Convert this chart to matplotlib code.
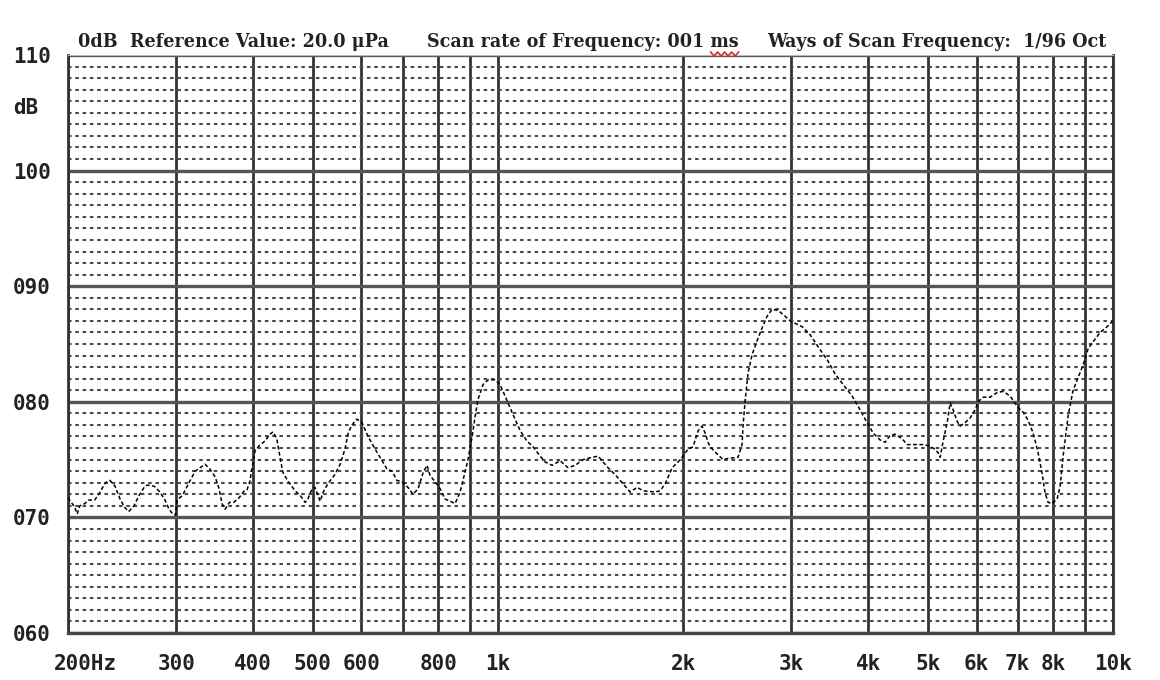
import matplotlib
matplotlib.use('Agg')
import matplotlib.pyplot as plt
from matplotlib import font_manager
from matplotlib.font_manager import FontProperties
from matplotlib.ticker import FixedLocator, FixedFormatter, MultipleLocator, NullLocator
from matplotlib.transforms import ScaledTranslation
import numpy as np

# ---------------- data ----------------
freq_hz = [200, 205, 207, 209, 213, 216, 221, 225, 230, 234, 238.5, 243, 247, 251, 256,
           261, 266, 269, 276, 281, 287, 292, 296, 299, 301, 307, 316, 322, 328, 334, 340,
           347, 352, 356, 360, 366, 372, 379.5, 387, 391, 395, 398, 403, 409, 418, 426,
           431, 437, 442, 447, 456, 468, 477, 486, 491, 499, 504, 510, 514, 520, 529, 543,
           554, 564, 571, 579, 590, 601, 615, 627, 643, 660, 673, 685, 698, 714, 728, 742,
           756, 767, 776, 790, 805, 820, 852, 868, 884, 894, 908, 918, 928, 946, 964, 989,
           1008, 1027, 1054, 1087, 1115, 1141, 1171, 1193, 1225, 1262, 1300, 1335, 1376,
           1423, 1455, 1510, 1551, 1580, 1640, 1684, 1722, 1801, 1835, 1870, 1920, 1963,
           2000, 2037, 2076, 2116, 2147, 2172, 2196, 2213, 2271, 2323, 2367, 2457, 2494,
           2504, 2523, 2551, 2590, 2639, 2689, 2739, 2791, 2855, 2930, 2986, 3123, 3218,
           3341, 3443, 3534, 3628, 3766, 3852, 3954, 4074, 4182, 4261, 4342, 4424, 4542,
           4627, 4733, 4913, 5006, 5101, 5197, 5236, 5295, 5375, 5436, 5497, 5580, 5643,
           5750, 5857, 5968, 6035, 6149, 6313, 6480, 6627, 6803, 7010, 7143, 7278, 7415,
           7555, 7669, 7756, 7844, 7962, 8113, 8204, 8297, 8454, 8613, 8776, 8943, 9112,
           9283, 9530, 9783, 10000]
level_db = [71.7, 70.9, 70.3, 71.0, 71.2, 71.5, 71.5, 72.1, 73.0, 73.2, 72.7, 71.6, 70.9, 70.5, 71.0,
            71.9, 72.6, 72.8, 72.7, 72.3, 71.6, 70.7, 70.3, 70.2, 71.5, 71.9, 73.2, 74.0, 74.3, 74.6, 74.2,
            73.5, 72.5, 71.2, 70.7, 71.3, 71.3, 71.7, 72.3, 72.4, 73.1, 74.1, 75.8, 76.2, 76.6, 77.2,
            77.4, 76.8, 75.3, 73.9, 73.1, 72.3, 71.9, 71.3, 71.6, 72.5, 72.6, 71.9, 71.4, 72.2, 72.9, 73.7,
            74.6, 75.9, 77.3, 78.0, 78.5, 78.2, 77.0, 76.2, 75.2, 74.2, 74.0, 73.2, 73.1, 72.6, 72.0, 72.5,
            73.9, 74.5, 73.6, 73.1, 72.5, 71.6, 71.2, 72.2, 73.9, 75.0, 77.0, 78.7, 80.2, 81.5, 81.9, 81.9,
            81.5, 80.5, 79.1, 77.5, 76.6, 76.1, 75.3, 74.8, 74.5, 74.9, 74.3, 74.5, 75.0,
            75.2, 75.3, 74.3, 73.7, 73.2, 72.2, 72.6, 72.3, 72.2, 72.3, 72.9, 74.3, 74.8,
            75.3, 75.9, 76.1, 77.5, 77.9, 77.3, 76.5, 76.1, 75.5, 75.0, 75.1, 75.2, 76.3,
            78.0, 80.1, 82.5, 84.1, 85.3, 86.4, 87.4, 88.0, 87.9, 87.4, 87.0, 86.5, 85.8,
            84.5, 83.5, 82.4, 81.6, 80.5, 79.6, 78.5, 77.3, 76.7, 76.5, 77.1, 77.2, 76.8,
            76.3, 76.3, 76.3, 76.2, 76.0, 75.6, 75.2, 76.6, 78.2, 79.9, 79.3, 78.3, 77.9,
            78.2, 78.6, 79.3, 80.0, 80.4, 80.4, 80.8, 80.9, 80.5, 79.5, 79.1, 78.4, 77.3,
            75.6, 73.8, 72.1, 71.3, 71.2, 71.6, 72.7, 75.3, 78.8, 81.0, 82.1, 83.2, 84.6,
            85.2, 86.0, 86.5, 87.0]

grid_freqs = [200, 300, 400, 500, 600, 700, 800, 900, 1000,
              2000, 3000, 4000, 5000, 6000, 7000, 8000, 9000, 10000]
grid_labels = ['200Hz', '300', '400', '500', '600', '', '800', '', '1k',
               '2k', '3k', '4k', '5k', '6k', '7k', '8k', '', '10k']
y_major = [60, 70, 80, 90, 100, 110]
y_labels = ['060', '070', '080', '090', '100', '110']
unit_label = 'dB'
title_parts = ['0dB  Reference Value: 20.0 \u03bcPa',
               'Scan rate of Frequency: 001 ms',
               'Ways of Scan Frequency:  1/96 Oct']

# ---------------- fonts ----------------
def pick_title_font():
    entries = [e.fname for e in font_manager.fontManager.ttflist]
    norm = [(f, f.lower().replace(' ', '').replace('_', '').replace('-', '')) for f in entries]
    prefs = ['serifextracondensedbold', 'serifcondensedbold', 'serifsemicondensedbold',
             'sansnarrowbold', 'sansextracondensedbold', 'robotocondensedbold',
             'sanscondensedbold', 'liberationserifbold']
    for p in prefs:
        for f, n in norm:
            base = n.rsplit('/', 1)[-1]
            if p in base and 'italic' not in base and 'extrabold' not in base and 'semibold' not in base:
                return FontProperties(fname=f)
    return FontProperties(family='Liberation Serif', weight='bold')

title_fp = pick_title_font()
mono = dict(family='DejaVu Sans Mono', weight='bold')

W, H = 1160, 680
fig = plt.figure(figsize=(W / 100, H / 100), dpi=100)
L, R, T, B = 68, 1113, 55, 633
ax = fig.add_axes([L / W, 1 - B / H, (R - L) / W, (B - T) / H])

ax.set_xscale('log')
ax.set_xlim(200, 10000)
ax.set_ylim(60, 110)

ax.xaxis.set_major_locator(FixedLocator(grid_freqs))
ax.xaxis.set_major_formatter(FixedFormatter(grid_labels))
ax.xaxis.set_minor_locator(NullLocator())
ax.yaxis.set_major_locator(FixedLocator(y_major))
ax.yaxis.set_major_formatter(FixedFormatter(y_labels))
ax.yaxis.set_minor_locator(MultipleLocator(1))

ax.tick_params(axis='x', which='both', length=0, pad=15, labelsize=15)
ax.tick_params(axis='y', which='both', length=0, pad=39.6, labelsize=15)
for lab in ax.get_xticklabels() + ax.get_yticklabels():
    lab.set_fontfamily(mono['family'])
    lab.set_fontweight(mono['weight'])
    lab.set_color('#222222')
for lab in ax.get_yticklabels():
    lab.set_horizontalalignment('left')
first = ax.get_xticklabels()[0]
first.set_horizontalalignment('left')
first.set_transform(first.get_transform() + ScaledTranslation(-0.14, 0, fig.dpi_scale_trans))

ax.grid(True, which='major', axis='y', color='#555555', lw=2.4, zorder=1)
ax.grid(True, which='minor', axis='y', color='#4a4a4a', lw=1.5, linestyle=(0, (1.7, 1.8)), zorder=1)
ax.grid(True, which='major', axis='x', color='#333333', lw=2.0, zorder=1)
ax.set_axisbelow(True)

for side, (c, w) in {'top': ('#bbbbbb', 0.8), 'bottom': ('#444444', 2.4),
                     'left': ('#333333', 2.0), 'right': ('#333333', 2.0)}.items():
    ax.spines[side].set_color(c)
    ax.spines[side].set_linewidth(w)

ax.plot(freq_hz, level_db, color='black', lw=1.1, linestyle=(0, (2.5, 1.6)), zorder=3)

fig.text(13 / W, 1 - 108 / H, unit_label, ha='left', va='center', fontsize=15,
         color='#222222', **mono)

# ---------------- title ----------------
renderer = fig.canvas.get_renderer()
targets = [(78, 390), (427, 733), (767, 1105)]
sizes = []
for txt, (x0, x1) in zip(title_parts, targets):
    t = fig.text(0, 0, txt, fontproperties=title_fp, fontsize=20)
    wpx = t.get_window_extent(renderer).width
    sizes.append(20 * (x1 - x0) / wpx)
    t.remove()
size = float(np.median(sizes))
tobjs = []
for txt, (x0, x1) in zip(title_parts, targets):
    t = fig.text(x0 / W, 1 - 47 / H, txt, fontproperties=title_fp, fontsize=size,
                 ha='left', va='baseline', color='#222222')
    tobjs.append(t)

# spell-check squiggle under "ms"
bb = tobjs[1].get_window_extent(renderer)
sx = np.linspace(bb.x1 - 28, bb.x1, 9)
sy = np.where(np.arange(9) % 2 == 0, bb.y0 - 1, bb.y0 - 5)
fig.add_artist(plt.Line2D(sx / W, sy / H, color='#d03030', lw=1.2, transform=fig.transFigure))

fig.savefig('out.png', dpi=100)
